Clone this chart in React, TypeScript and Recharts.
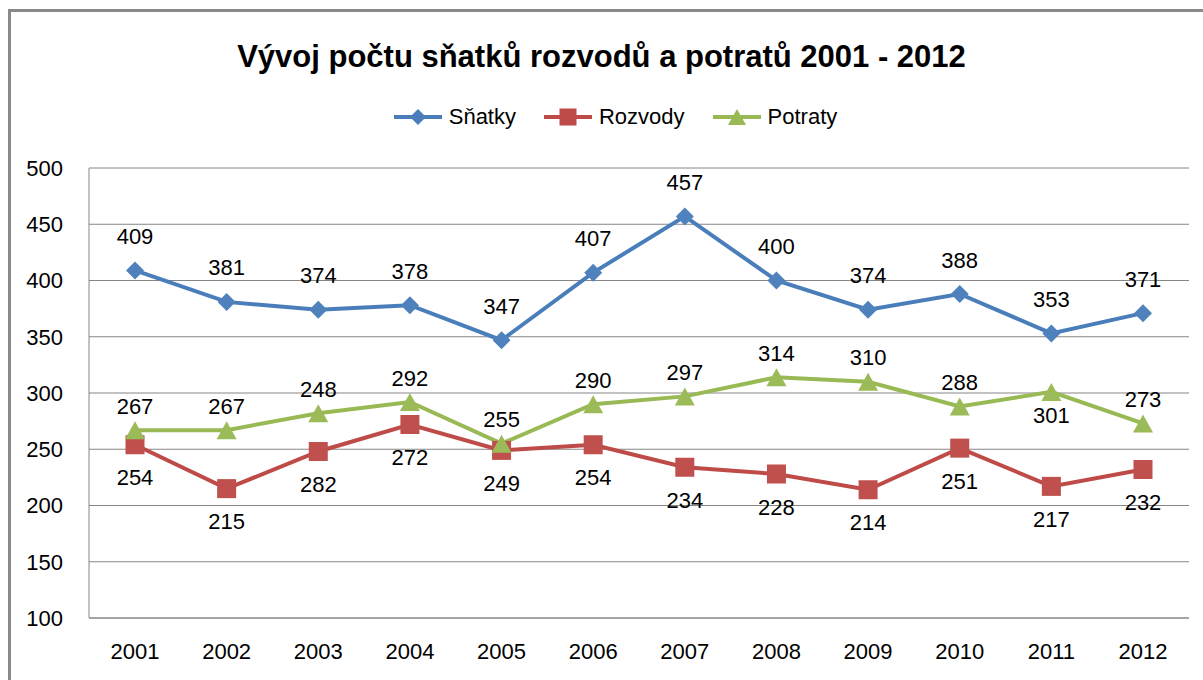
import {
  LineChart,
  Line,
  XAxis,
  YAxis,
  CartesianGrid,
  LabelList,
} from "recharts";

const years = ["2001", "2002", "2003", "2004", "2005", "2006", "2007", "2008", "2009", "2010", "2011", "2012"];
const snatky = [409, 381, 374, 378, 347, 407, 457, 400, 374, 388, 353, 371];
const rozvody = [254, 215, 248, 272, 249, 254, 234, 228, 214, 251, 217, 232];
const potraty = [267, 267, 282, 292, 255, 290, 297, 314, 310, 288, 301, 273];
// popisky tak, jak jsou v původním grafu (2003 prohozené)
const snatkyLabels = ["409", "381", "374", "378", "347", "407", "457", "400", "374", "388", "353", "371"];
const rozvodyLabels = ["254", "215", "282", "272", "249", "254", "234", "228", "214", "251", "217", "232"];
const potratyLabels = ["267", "267", "248", "292", "255", "290", "297", "314", "310", "288", "301", "273"];
const potratyBelow = [false, false, false, false, false, false, false, false, false, false, true, false];
const yTicks = [100, 150, 200, 250, 300, 350, 400, 450, 500];

const BLUE = "#4A7EBB";
const RED = "#BE4B48";
const GREEN = "#98B954";
const GRID = "#868686";
const FONT = "'Liberation Sans', Arial, sans-serif";

const data = years.map((y, i) => ({
  year: y,
  s: snatky[i],
  r: rozvody[i],
  p: potraty[i],
  sL: snatkyLabels[i],
  rL: rozvodyLabels[i],
  pTop: potratyBelow[i] ? null : potratyLabels[i],
  pBottom: potratyBelow[i] ? potratyLabels[i] : null,
}));

function Diamond({ cx, cy, size = 9, fill }: any) {
  return <path d={`M${cx},${cy - size}L${cx + size},${cy}L${cx},${cy + size}L${cx - size},${cy}Z`} fill={fill} />;
}

function Square({ cx, cy, size = 9.5, fill }: any) {
  return <rect x={cx - size} y={cy - size} width={size * 2} height={size * 2} fill={fill} />;
}

function Triangle({ cx, cy, w = 10, h = 9, fill }: any) {
  return <path d={`M${cx},${cy - h}L${cx + w},${cy + h}L${cx - w},${cy + h}Z`} fill={fill} />;
}

const makeLabel = (dy: number) => (props: any) => {
  const { value } = props;
  if (value == null) return null;
  const x = props.x ?? props.viewBox?.x;
  const y = props.y ?? props.viewBox?.y;
  return (
    <text
      x={x}
      y={y + dy}
      textAnchor="middle"
      dominantBaseline="central"
      fontSize={22}
      fontFamily={FONT}
      fill="#000"
    >
      {value}
    </text>
  );
};

function LegendItem({ color, label, marker }: { color: string; label: string; marker: string }) {
  return (
    <div style={{ display: "flex", alignItems: "center", marginRight: 28 }}>
      <svg width={48} height={22} style={{ marginRight: 7 }}>
        <line x1={0} y1={11} x2={48} y2={11} stroke={color} strokeWidth={4} />
        {marker === "d" && <Diamond cx={24} cy={11} size={8} fill={color} />}
        {marker === "s" && <Square cx={24} cy={11} size={8.5} fill={color} />}
        {marker === "t" && <Triangle cx={24} cy={11} w={9} h={8} fill={color} />}
      </svg>
      <span>{label}</span>
    </div>
  );
}

export default function App() {
  return (
    <div
      style={{
        position: "absolute",
        left: 0,
        top: 0,
        width: 1203,
        height: 680,
        background: "#fff",
        overflow: "hidden",
        fontFamily: FONT,
      }}
    >
      <div
        style={{
          position: "absolute",
          left: 8,
          top: 9,
          width: 1300,
          height: 800,
          borderLeft: "3px solid #8a8a8a",
          borderTop: "3px solid #8a8a8a",
        }}
      />
      <div
        style={{
          position: "absolute",
          top: 41,
          left: 0,
          width: 1203,
          textAlign: "center",
          fontSize: 31,
          lineHeight: "31px",
          fontWeight: "bold",
          color: "#000",
        }}
      >
        Vývoj počtu sňatků rozvodů a potratů 2001 - 2012
      </div>
      <div
        style={{
          position: "absolute",
          top: 106,
          left: 28,
          width: 1203,
          display: "flex",
          justifyContent: "center",
          fontSize: 22,
          lineHeight: "22px",
          color: "#000",
        }}
      >
        <LegendItem color={BLUE} label="Sňatky" marker="d" />
        <LegendItem color={RED} label="Rozvody" marker="s" />
        <LegendItem color={GREEN} label="Potraty" marker="t" />
      </div>
      <div style={{ position: "absolute", left: 0, top: 0 }}>
        <LineChart width={1203} height={680} data={data} margin={{ top: 168, right: 14, bottom: 0, left: 0 }}>
          <CartesianGrid vertical={false} stroke={GRID} />
          <XAxis
            dataKey="year"
            height={62}
            padding={{ left: 46, right: 46 }}
            tickSize={0}
            tickMargin={25}
            tickLine={false}
            axisLine={{ stroke: GRID }}
            tick={{ fontSize: 22, fill: "#000", fontFamily: FONT }}
          />
          <YAxis
            width={89}
            domain={[100, 500]}
            ticks={yTicks}
            tickSize={0}
            tickMargin={26}
            tickLine={false}
            axisLine={{ stroke: GRID }}
            tick={{ fontSize: 22, fill: "#000", fontFamily: FONT }}
          />
          <Line
            dataKey="s"
            stroke={BLUE}
            strokeWidth={4}
            isAnimationActive={false}
            dot={(p: any) => <Diamond key={`s${p.index}`} cx={p.cx} cy={p.cy} fill="#4F81BD" />}
          >
            <LabelList dataKey="sL" content={makeLabel(-34)} />
          </Line>
          <Line
            dataKey="r"
            stroke={RED}
            strokeWidth={4}
            isAnimationActive={false}
            dot={(p: any) => <Square key={`r${p.index}`} cx={p.cx} cy={p.cy} fill="#C0504D" />}
          >
            <LabelList dataKey="rL" content={makeLabel(33)} />
          </Line>
          <Line
            dataKey="p"
            stroke={GREEN}
            strokeWidth={4}
            isAnimationActive={false}
            dot={(p: any) => <Triangle key={`p${p.index}`} cx={p.cx} cy={p.cy} fill="#9BBB59" />}
          >
            <LabelList dataKey="pTop" content={makeLabel(-24)} />
            <LabelList dataKey="pBottom" content={makeLabel(24)} />
          </Line>
        </LineChart>
      </div>
    </div>
  );
}
